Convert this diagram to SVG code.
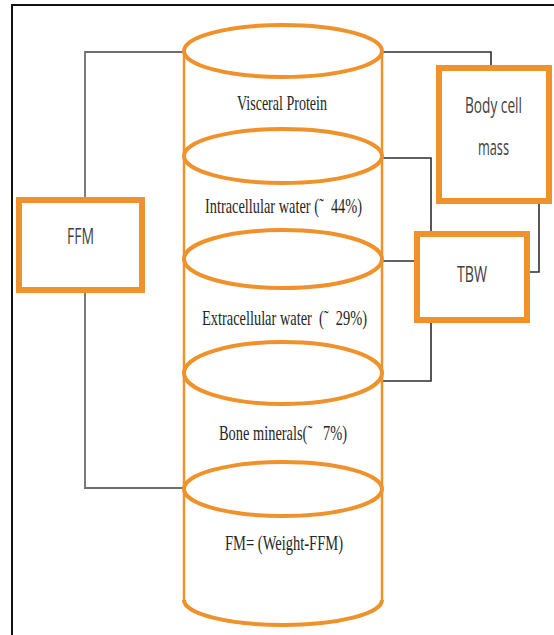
<svg xmlns="http://www.w3.org/2000/svg" width="554" height="635" viewBox="0 0 554 635">
<style>
.frame{fill:none;stroke:#111;stroke-width:2}
.cyl{fill:none;stroke:#F0922B;stroke-width:2.5}
.cap{fill:none;stroke:#F0922B;stroke-width:4}
.box{fill:#fff;stroke:#F0922B;stroke-width:6}
.conL{fill:none;stroke:#6e6e6e;stroke-width:1.8}
.conR{fill:none;stroke:#2e2e2e;stroke-width:1.6}
.ser{font-family:"Liberation Serif","Times New Roman",serif;font-size:21px;fill:#262626;white-space:pre}
.san{font-family:"Open Sans","Liberation Sans",Arial,sans-serif;font-size:22px;fill:#3f3f3f}
</style>
<rect class="frame" x="12" y="5" width="600" height="700"/>
<g id="connectors">
<polyline class="conL" points="184,52 85,52 85,198"/>
<polyline class="conL" points="85,292 85,488 184,488"/>
<polyline class="conR" points="382,52 491,52 491,66"/>
<polyline class="conR" points="382,158 431,158 431,232"/>
<polyline class="conR" points="382,261 415,261"/>
<polyline class="conR" points="529,272 539,272 539,203"/>
<polyline class="conR" points="431,322 431,381 382,381"/>
</g>
<g id="cylinder">
<path class="cyl" d="M184,52 V600 A99,25 0 0 0 382,600 V52"/>
<path class="cap" d="M184,600 A99,25 0 0 0 382,600"/>
<ellipse class="cap" cx="283" cy="51" rx="99" ry="26"/>
<ellipse class="cap" cx="283" cy="156" rx="99" ry="27"/>
<ellipse class="cap" cx="283" cy="259" rx="99" ry="29"/>
<ellipse class="cap" cx="283" cy="373" rx="99" ry="31"/>
<ellipse class="cap" cx="283" cy="489" rx="99" ry="27"/>
<text class="ser" x="237" y="110" textLength="90" lengthAdjust="spacingAndGlyphs">Visceral Protein</text>
<text class="ser" x="205" y="213" textLength="157" lengthAdjust="spacingAndGlyphs">Intracellular water (˜  44%)</text>
<text class="ser" x="202" y="325" textLength="165" lengthAdjust="spacingAndGlyphs">Extracellular water  (˜  29%)</text>
<text class="ser" x="219" y="440" textLength="128" lengthAdjust="spacingAndGlyphs">Bone minerals(˜   7%)</text>
<text class="ser" x="225" y="550" textLength="118" lengthAdjust="spacingAndGlyphs">FM= (Weight-FFM)</text>
</g>
<g id="ffm">
<rect class="box" x="19" y="200" width="123" height="90"/>
<text class="san" x="67" y="244" textLength="27" lengthAdjust="spacingAndGlyphs">FFM</text>
</g>
<g id="bcm">
<rect class="box" x="439" y="68" width="110" height="133"/>
<text class="san" transform="translate(465,113) scale(0.6,1)" x="0" y="0" textLength="95" lengthAdjust="spacingAndGlyphs">Body cell</text>
<text class="san" x="478" y="155" textLength="31" lengthAdjust="spacingAndGlyphs">mass</text>
</g>
<g id="tbw">
<rect class="box" x="417" y="234" width="110" height="86"/>
<text class="san" x="457" y="282" textLength="30" lengthAdjust="spacingAndGlyphs">TBW</text>
</g>
</svg>
